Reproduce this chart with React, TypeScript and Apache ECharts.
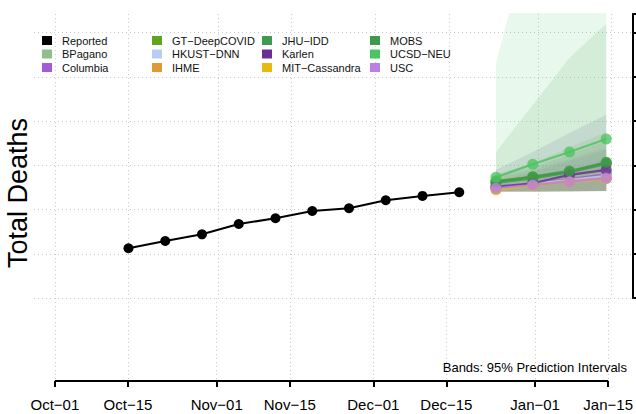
import React, { useEffect, useRef } from "react";
import * as echarts from "echarts";

const FONT = "Liberation Sans, Arial, Helvetica, sans-serif";

const tickLabels = ["Oct−01", "Oct−15", "Nov−01", "Nov−15", "Dec−01", "Dec−15", "Jan−01", "Jan−15"];

const reportedDates = ["Oct−15", "Oct−22", "Oct−29", "Nov−05", "Nov−12", "Nov−19", "Nov−26", "Dec−03", "Dec−10", "Dec−17"];
const reportedValues = [5124, 5289, 5440, 5673, 5802, 5967, 6028, 6209, 6307, 6390];

const forecastDates = ["Dec−24", "Dec−31", "Jan−07", "Jan−14"];

const modelNames = ["BPagano", "Columbia", "GT−DeepCOVID", "HKUST−DNN", "IHME", "JHU−IDD", "Karlen", "MIT−Cassandra", "MOBS", "UCSD−NEU", "USC"];
const modelColors = ["#8FBF8F", "#A45BD6", "#5FA51E", "#B7CDF2", "#DE9B33", "#3E9B4F", "#6A2F96", "#E8BA10", "#3D9A48", "#4DC461", "#BC7FE6"];

const bpaganoMean = [6533, 6623, 6714, 6827];
const columbiaMean = [6499, 6578, 6691, 6793];
const gtMean = [6646, 6736, 6849, 7053];
const hkustMean = [6510, 6589, 6668, 6759];
const ihmeMean = [6460, 6560, 6645, 6715];
const jhuMean = [6600, 6702, 6838, 7030];
const karlenMean = [6517, 6594, 6782, 6895];
const mitMean = [6448, 6545, 6622, 6695];
const mobsMean = [6630, 6743, 6872, 7069];
const ucsdMean = [6730, 7024, 7302, 7596];
const uscMean = [6481, 6555, 6630, 6707];

const bpaganoLower = [6405, 6410, 6415, 6420];
const columbiaLower = [6405, 6410, 6415, 6420];
const gtLower = [6405, 6410, 6415, 6420];
const hkustLower = [6405, 6410, 6415, 6420];
const ihmeLower = [6405, 6410, 6415, 6420];
const jhuLower = [6405, 6410, 6415, 6420];
const karlenLower = [6405, 6410, 6415, 6420];
const mitLower = [6405, 6410, 6415, 6420];
const mobsLower = [6405, 6410, 6415, 6420];
const ucsdLower = [6405, 6410, 6415, 6420];
const uscLower = [6405, 6410, 6415, 6420];

const bpaganoUpper = [6700, 6900, 7150, 7400];
const columbiaUpper = [6650, 6850, 7100, 7350];
const gtUpper = [6800, 7050, 7400, 7750];
const hkustUpper = [6600, 6750, 6900, 7050];
const ihmeUpper = [6550, 6700, 6900, 7050];
const jhuUpper = [6750, 6950, 7250, 7550];
const karlenUpper = [6900, 7300, 7730, 8140];
const mitUpper = [6520, 6650, 6800, 6950];
const mobsUpper = [7300, 8365, 9430, 10200];
const ucsdUpper = [9314, 12450, 15000, 17500];
const uscUpper = [6600, 6750, 6950, 7150];

const modelMeans = [bpaganoMean, columbiaMean, gtMean, hkustMean, ihmeMean, jhuMean, karlenMean, mitMean, mobsMean, ucsdMean, uscMean];
const modelLowers = [bpaganoLower, columbiaLower, gtLower, hkustLower, ihmeLower, jhuLower, karlenLower, mitLower, mobsLower, ucsdLower, uscLower];
const modelUppers = [bpaganoUpper, columbiaUpper, gtUpper, hkustUpper, ihmeUpper, jhuUpper, karlenUpper, mitUpper, mobsUpper, ucsdUpper, uscUpper];

const legendColumns = [
  ["Reported", "BPagano", "Columbia"],
  ["GT−DeepCOVID", "HKUST−DNN", "IHME"],
  ["JHU−IDD", "Karlen", "MIT−Cassandra"],
  ["MOBS", "UCSD−NEU", "USC"],
];
const legendLefts = [42, 152, 262, 370];

const MONTHS = ["Jan", "Feb", "Mar", "Apr", "May", "Jun", "Jul", "Aug", "Sep", "Oct", "Nov", "Dec"];
const axisDays: string[] = (() => {
  const out: string[] = [];
  const start = Date.UTC(2020, 8, 27);
  const end = Date.UTC(2021, 0, 19);
  for (let t = start; t <= end; t += 86400000) {
    const d = new Date(t);
    const dd = String(d.getUTCDate()).padStart(2, "0");
    out.push(MONTHS[d.getUTCMonth()] + "−" + dd);
  }
  return out;
})();

const isTick = (_i: number, v: string) => tickLabels.indexOf(v) >= 0;

const gridLine = { show: true, interval: isTick, lineStyle: { color: "#C8C8C8", width: 1, type: [1, 3] as any } };

export default function App() {
  const ref = useRef<HTMLDivElement>(null);
  useEffect(() => {
    if (!ref.current) return;
    const chart = echarts.init(ref.current, undefined, { renderer: "svg" });

    const series: any[] = [];
    // bands
    modelNames.forEach((name, i) => {
      const lower = modelLowers[i];
      const upper = modelUppers[i];
      series.push({
        name: name + " band lo",
        type: "line",
        xAxisIndex: 0,
        yAxisIndex: 0,
        stack: "band" + i,
        data: forecastDates.map((d, k) => [d, lower[k]]),
        symbol: "none",
        lineStyle: { opacity: 0 },
        silent: true,
      });
      series.push({
        name: name + " band",
        type: "line",
        xAxisIndex: 0,
        yAxisIndex: 0,
        stack: "band" + i,
        data: forecastDates.map((d, k) => [d, upper[k] - lower[k]]),
        symbol: "none",
        lineStyle: { opacity: 0 },
        areaStyle: { color: modelColors[i], opacity: 0.12 },
        silent: true,
      });
    });
    // reported
    series.push({
      name: "Reported",
      type: "line",
      xAxisIndex: 0,
      yAxisIndex: 0,
      data: reportedDates.map((d, k) => [d, reportedValues[k]]),
      symbol: "circle",
      symbolSize: 10,
      showAllSymbol: true,
      itemStyle: { color: "#000" },
      lineStyle: { color: "#000", width: 2 },
      color: "#000",
    });
    // model lines
    modelNames.forEach((name, i) => {
      series.push({
        name,
        type: "line",
        xAxisIndex: 0,
        yAxisIndex: 0,
        data: forecastDates.map((d, k) => [d, modelMeans[i][k]]),
        symbol: "circle",
        symbolSize: 11,
        showAllSymbol: true,
        color: modelColors[i],
        itemStyle: { color: modelColors[i], opacity: 0.8 },
        lineStyle: { color: modelColors[i], width: 2.2, opacity: 0.85 },
      });
    });
    // x axis line (from first to last tick)
    series.push({
      name: "xaxisline",
      type: "line",
      xAxisIndex: 1,
      yAxisIndex: 1,
      data: [[tickLabels[0], 0], [tickLabels[tickLabels.length - 1], 0]],
      symbol: "none",
      clip: false,
      silent: true,
      lineStyle: { color: "#000", width: 2 },
    });

    const legends = legendColumns.map((col, c) => ({
      show: true,
      orient: "vertical",
      left: legendLefts[c],
      top: 35,
      padding: 0,
      itemWidth: 10,
      itemHeight: 9,
      itemGap: 2.5,
      icon: "rect",
      selectedMode: false,
      data: col,
      itemStyle: { opacity: 1 },
      lineStyle: { opacity: 0 },
      textStyle: { fontSize: 11, fontFamily: FONT, color: "#111", lineHeight: 11, padding: [0, 0, 0, 5] },
    }));

    chart.setOption({
      animation: false,
      backgroundColor: "#fff",
      textStyle: { fontFamily: FONT },
      grid: [
        { left: 34, right: 3.5, top: 14, bottom: 116, containLabel: false },
        { left: 34, right: 3.5, top: 298, bottom: 33, containLabel: false },
      ],
      legend: legends,
      xAxis: [
        {
          gridIndex: 0,
          type: "category",
          data: axisDays,
          boundaryGap: false,
          axisLine: { show: false },
          axisTick: { show: false },
          axisLabel: { show: false },
          splitLine: gridLine,
        },
        {
          gridIndex: 1,
          type: "category",
          data: axisDays,
          boundaryGap: false,
          axisLine: { show: false },
          axisTick: { show: true, interval: isTick, length: 6, lineStyle: { color: "#000", width: 2 } },
          axisLabel: { show: true, interval: isTick, fontSize: 15, color: "#000", fontFamily: FONT, margin: 16 },
          splitLine: gridLine,
        },
      ],
      yAxis: [
        {
          gridIndex: 0,
          type: "value",
          position: "right",
          min: 4000,
          max: 10420,
          interval: 1000,
          axisLine: { show: true, lineStyle: { color: "#000", width: 2 } },
          axisTick: { show: true, inside: false, length: 6, lineStyle: { color: "#000", width: 2 } },
          axisLabel: { show: false },
          splitLine: { show: true, showMaxLine: false, lineStyle: { color: "#C8C8C8", width: 1, type: [1, 3] } },
        },
        {
          gridIndex: 1,
          type: "value",
          min: 0,
          max: 1,
          show: false,
        },
      ],
      graphic: [
        {
          type: "text",
          x: 18,
          y: 193,
          rotation: Math.PI / 2,
          style: { text: "Total Deaths", fontSize: 27, fontFamily: FONT, fill: "#000", align: "center", verticalAlign: "middle" },
        },
        {
          type: "text",
          right: 9,
          top: 361,
          style: { text: "Bands: 95% Prediction Intervals", fontSize: 13, fontFamily: FONT, fill: "#000" },
        },
      ],
      series,
    });
    return () => chart.dispose();
  }, []);
  return <div ref={ref} style={{ position: "absolute", left: 0, top: 0, width: 636, height: 414 }} />;
}
